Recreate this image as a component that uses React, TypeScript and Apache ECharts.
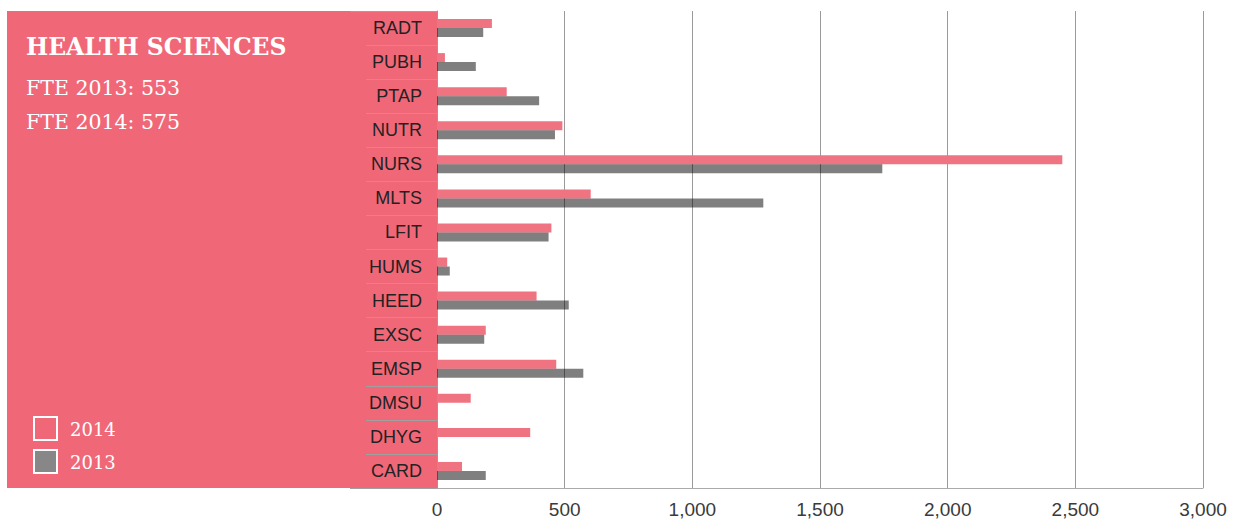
import React, { useEffect, useRef } from "react";
import * as echarts from "echarts";

const categories = ["RADT", "PUBH", "PTAP", "NUTR", "NURS", "MLTS", "LFIT", "HUMS", "HEED", "EXSC", "EMSP", "DMSU", "DHYG", "CARD"];
const values2014 = [215, 31, 273, 491, 2449, 602, 448, 40, 390, 191, 467, 132, 365, 98];
const values2013 = [181, 152, 400, 462, 1744, 1278, 437, 50, 516, 185, 573, 0, 0, 191];
const xTicks = { min: 0, max: 3000, interval: 500 };
const titleText = "HEALTH SCIENCES";
const fteLines = ["FTE 2013: 553", "FTE 2014: 575"];
const legendNames = ["2014", "2013"];

const PANEL = "#F06878";
const PINK = "#F07381";
const GRAY_LEG = "#878787";

export default function App() {
  const ref = useRef<HTMLDivElement>(null);
  useEffect(() => {
    const chart = echarts.init(ref.current!, null, { renderer: "svg" });
    const serif = "'DejaVu Serif', serif";
    chart.setOption({
      animation: false,
      backgroundColor: "#ffffff",
      grid: { left: 437, right: 33, top: 11, bottom: 35, containLabel: false },
      xAxis: {
        type: "value",
        min: xTicks.min,
        max: xTicks.max,
        interval: xTicks.interval,
        axisLine: { show: true, lineStyle: { color: "#aaaaaa", width: 1 } },
        axisTick: { show: false },
        splitLine: { show: true, lineStyle: { color: "#9a9a9a", width: 1 } },
        axisLabel: {
          color: "#3a3a3a",
          fontFamily: "'Liberation Sans', Arial, sans-serif",
          fontSize: 19,
          margin: 12,
          formatter: (v: number) => v.toLocaleString("en-US"),
        },
      },
      yAxis: {
        type: "category",
        data: categories,
        inverse: true,
        axisLine: { show: true, lineStyle: { color: "#9a9a9a", width: 1 } },
        axisTick: { show: true, length: 71, interval: 0, lineStyle: { color: "#a0a0a0", width: 1 } },
        axisLabel: {
          color: "#222222",
          fontFamily: "'Liberation Sans', Arial, sans-serif",
          fontSize: 18,
          margin: 15,
        },
        splitLine: { show: false },
      },
      series: [
        {
          name: legendNames[0],
          type: "bar",
          data: values2014,
          barWidth: 9,
          barGap: "0%",
          itemStyle: { color: PINK },
        },
        {
          name: legendNames[1],
          type: "bar",
          data: values2013,
          barWidth: 9,
          barGap: "0%",
          itemStyle: { color: "rgba(0,0,0,0.5)" },
        },
      ],
      graphic: [
        {
          type: "rect",
          z: -10,
          shape: { x: 7, y: 11, width: 430, height: 477 },
          style: { fill: PANEL },
          silent: true,
        },
        {
          type: "line",
          z: 5,
          shape: { x1: 350, y1: 11.5, x2: 437, y2: 11.5 },
          style: { stroke: "#a0a0a0", lineWidth: 1 },
        },
        {
          type: "line",
          z: 5,
          shape: { x1: 350, y1: 488.5, x2: 437, y2: 488.5 },
          style: { stroke: "#a0a0a0", lineWidth: 1 },
        },
        {
          type: "text",
          z: 5,
          x: 26,
          y: 47,
          style: {
            text: titleText,
            fill: "#ffffff",
            font: `bold 23.5px ${serif}`,
            verticalAlign: "middle",
          },
        },
        {
          type: "text",
          z: 5,
          x: 26,
          y: 88,
          style: { text: fteLines[0], fill: "#ffffff", font: `20.5px ${serif}`, verticalAlign: "middle" },
        },
        {
          type: "text",
          z: 5,
          x: 26,
          y: 122,
          style: { text: fteLines[1], fill: "#ffffff", font: `20.5px ${serif}`, verticalAlign: "middle" },
        },
        {
          type: "rect",
          z: 5,
          shape: { x: 34, y: 417, width: 23, height: 23 },
          style: { fill: PANEL, stroke: "#ffffff", lineWidth: 2 },
        },
        {
          type: "rect",
          z: 5,
          shape: { x: 34, y: 450, width: 23, height: 23 },
          style: { fill: GRAY_LEG, stroke: "#ffffff", lineWidth: 2 },
        },
        {
          type: "text",
          z: 5,
          x: 70,
          y: 429,
          style: { text: legendNames[0], fill: "#ffffff", font: `18px ${serif}`, verticalAlign: "middle" },
        },
        {
          type: "text",
          z: 5,
          x: 70,
          y: 462,
          style: { text: legendNames[1], fill: "#ffffff", font: `18px ${serif}`, verticalAlign: "middle" },
        },
      ],
    });
    return () => chart.dispose();
  }, []);
  return (
    <div
      ref={ref}
      style={{ position: "fixed", left: 0, top: 0, width: 1236, height: 523 }}
    />
  );
}
